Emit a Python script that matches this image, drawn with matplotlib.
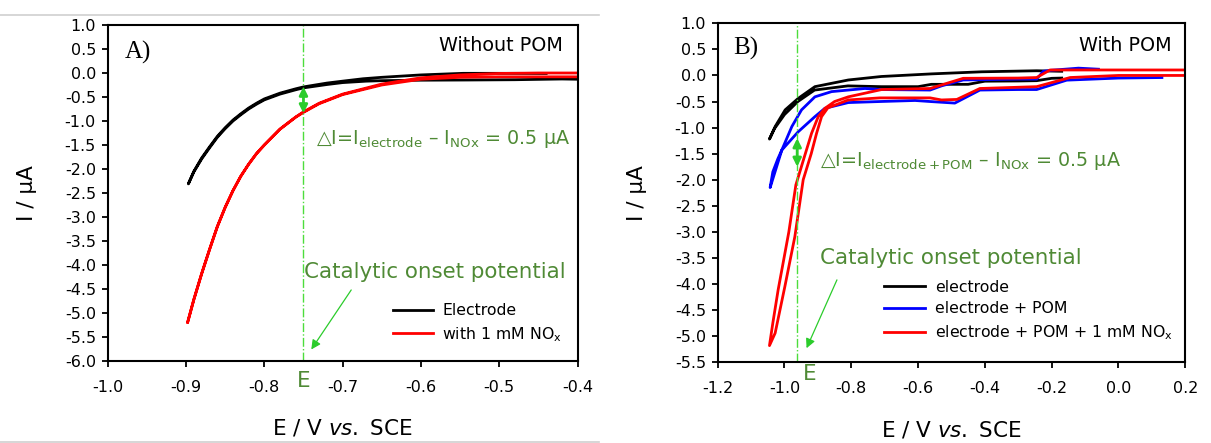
import matplotlib
matplotlib.use("Agg")
import matplotlib.pyplot as plt
from matplotlib.lines import Line2D

plt.rcParams['font.family'] = ['DejaVu Sans']
plt.rcParams['mathtext.fontset'] = 'dejavusans'

# ---------------- Panel A data (Without POM) ----------------
a_black_fwd_x = [-0.40, -0.42, -0.48, -0.54, -0.60, -0.65, -0.67, -0.70, -0.72, -0.75, -0.76, -0.78, -0.80, -0.81, -0.82, -0.83, -0.84, -0.85, -0.86, -0.87, -0.88, -0.89, -0.897]
a_black_fwd_y = [-0.13, -0.125, -0.14, -0.146, -0.15, -0.16, -0.17, -0.20, -0.24, -0.31, -0.35, -0.44, -0.56, -0.65, -0.75, -0.87, -1.00, -1.16, -1.34, -1.56, -1.79, -2.06, -2.31]
a_black_rev_x = [-0.897, -0.89, -0.88, -0.87, -0.86, -0.85, -0.84, -0.83, -0.82, -0.81, -0.80, -0.78, -0.76, -0.75, -0.72, -0.70, -0.674, -0.65, -0.60, -0.546, -0.486, -0.44]
a_black_rev_y = [-2.31, -2.05, -1.77, -1.54, -1.32, -1.14, -0.98, -0.85, -0.73, -0.63, -0.54, -0.42, -0.33, -0.29, -0.21, -0.17, -0.12, -0.09, -0.04, -0.007, -0.007, -0.01]

a_red_fwd_x = [-0.40, -0.45, -0.50, -0.55, -0.60, -0.65, -0.70, -0.73, -0.75, -0.76, -0.78, -0.80, -0.81, -0.82, -0.83, -0.84, -0.85, -0.86, -0.87, -0.88, -0.89, -0.898]
a_red_fwd_y = [-0.08, -0.08, -0.08, -0.09, -0.13, -0.25, -0.45, -0.64, -0.82, -0.92, -1.17, -1.50, -1.68, -1.90, -2.15, -2.45, -2.80, -3.20, -3.68, -4.18, -4.72, -5.20]
a_red_rev_x = [-0.898, -0.89, -0.88, -0.87, -0.86, -0.85, -0.84, -0.83, -0.82, -0.81, -0.80, -0.78, -0.76, -0.75, -0.73, -0.70, -0.65, -0.60, -0.55, -0.50, -0.45, -0.40]
a_red_rev_y = [-5.20, -4.72, -4.18, -3.68, -3.20, -2.80, -2.45, -2.15, -1.90, -1.68, -1.50, -1.17, -0.92, -0.81, -0.63, -0.44, -0.23, -0.10, -0.04, -0.01, 0.00, 0.00]

a_labels = ["Electrode", "with 1 mM NO$_\\mathregular{x}$"]
a_xticks = [-1.0, -0.9, -0.8, -0.7, -0.6, -0.5, -0.4]
a_yticks = [1.0, 0.5, 0.0, -0.5, -1.0, -1.5, -2.0, -2.5, -3.0, -3.5, -4.0, -4.5, -5.0, -5.5, -6.0]
a_onset_E = -0.75
a_dI = (-0.285, -0.84)

# ---------------- Panel B data (With POM) ----------------
b_black_1_x = [-0.17, -0.20, -0.245, -0.30, -0.40, -0.45, -0.56, -0.60, -0.71, -0.81, -0.91, -0.96, -1.00, -1.03, -1.045]
b_black_1_y = [-0.05, -0.055, -0.10, -0.106, -0.11, -0.17, -0.17, -0.215, -0.215, -0.20, -0.28, -0.50, -0.75, -1.02, -1.22]
b_black_2_x = [-1.045, -1.028, -0.998, -0.959, -0.909, -0.809, -0.71, -0.56, -0.41, -0.245, -0.17]
b_black_2_y = [-1.22, -0.98, -0.66, -0.44, -0.215, -0.087, -0.02, 0.03, 0.07, 0.09, 0.08]

b_blue_1_x = [-1.043, -1.035, -1.02, -1.008, -0.978, -0.949, -0.909, -0.859, -0.759, -0.714, -0.564, -0.53, -0.465, -0.30, -0.245, -0.225, -0.20, -0.12, -0.06]
b_blue_1_y = [-2.15, -1.85, -1.60, -1.43, -0.98, -0.66, -0.41, -0.31, -0.25, -0.27, -0.28, -0.20, -0.087, -0.07, -0.07, 0.08, 0.10, 0.14, 0.12]
b_blue_2_x = [-1.008, -0.959, -0.909, -0.879, -0.809, -0.714, -0.609, -0.564, -0.49, -0.415, -0.30, -0.245, -0.155, 0.0, 0.13]
b_blue_2_y = [-1.43, -1.08, -0.79, -0.63, -0.52, -0.50, -0.48, -0.50, -0.53, -0.28, -0.27, -0.27, -0.09, -0.05, -0.04]

b_red_1_x = [-1.045, -1.035, -1.019, -0.987, -0.966, -0.94, -0.919, -0.899, -0.879, -0.85, -0.809, -0.709, -0.564, -0.465, -0.30, -0.245, -0.205, 0.0, 0.2]
b_red_1_y = [-5.18, -4.75, -4.11, -3.00, -2.10, -1.55, -1.11, -0.79, -0.63, -0.50, -0.41, -0.27, -0.25, -0.055, -0.05, -0.04, 0.105, 0.105, 0.105]
b_red_2_x = [-1.045, -1.028, -0.999, -0.969, -0.944, -0.92, -0.904, -0.889, -0.87, -0.809, -0.714, -0.564, -0.53, -0.484, -0.415, -0.245, -0.145, 0.0, 0.2]
b_red_2_y = [-5.18, -4.94, -4.05, -3.09, -2.00, -1.50, -1.11, -0.79, -0.62, -0.47, -0.43, -0.43, -0.47, -0.46, -0.25, -0.215, -0.04, 0.0, 0.0]

b_labels = ["electrode", "electrode + POM", "electrode + POM + 1 mM NO$_\\mathregular{x}$"]
b_xticks = [-1.2, -1.0, -0.8, -0.6, -0.4, -0.2, 0.0, 0.2]
b_yticks = [1.0, 0.5, 0.0, -0.5, -1.0, -1.5, -2.0, -2.5, -3.0, -3.5, -4.0, -4.5, -5.0, -5.5]
b_onset_E = -0.962
b_dI = (-1.205, -1.75)

GREEN_TXT = "#4f8a35"
GREEN_LINE = "#4ddd3c"
GREEN_ARR = "#2bcc2b"
LW = 2.0

fig = plt.figure(figsize=(12.11, 4.43), dpi=100)
axA = fig.add_axes([0.08894, 0.18510, 0.38794, 0.75847])
axB = fig.add_axes([0.59265, 0.18217, 0.38612, 0.76524])

# decorative grey border lines of panel A
fig.add_artist(Line2D([0, 0.495], [1 - 15/443, 1 - 15/443], color="#d0d0d0", lw=1.2))
fig.add_artist(Line2D([0, 0.495], [1 - 441.5/443, 1 - 441.5/443], color="#d0d0d0", lw=1.2))


def style(ax, xlim, ylim, xticks, yticks):
    ax.set_xlim(*xlim)
    ax.set_ylim(*ylim)
    ax.set_xticks(xticks)
    ax.set_yticks(yticks)
    ax.set_xticklabels([f"{t:.1f}" for t in xticks])
    ax.set_yticklabels([f"{t:.1f}" for t in yticks])
    for s in ax.spines.values():
        s.set_linewidth(1.5)
    ax.tick_params(axis='both', direction='out', length=4.5, width=1.3, labelsize=11.5)
    ax.tick_params(axis='x', pad=9)
    ax.tick_params(axis='y', pad=4)
    ax.set_xlabel("E / V $\\mathit{vs.}$ SCE", fontsize=15.5, va='center')
    ax.set_ylabel("I / μA", fontsize=15.5, va='center')


# ---------- Panel A ----------
axA.plot(a_black_fwd_x + a_black_rev_x, a_black_fwd_y + a_black_rev_y, color="black", lw=LW, label=a_labels[0])
axA.plot(a_red_fwd_x + a_red_rev_x, a_red_fwd_y + a_red_rev_y, color="red", lw=LW, label=a_labels[1])
style(axA, (-1.0, -0.4), (-6.0, 1.0), a_xticks, a_yticks)
axA.xaxis.set_label_coords(0.5, -0.2)
axA.yaxis.set_label_coords(-0.172, 0.5)
axA.axvline(a_onset_E, color=GREEN_LINE, lw=1.0, ls='-.')
axA.annotate("", xy=(a_onset_E, a_dI[0]), xytext=(a_onset_E, a_dI[1]),
             arrowprops=dict(arrowstyle='<|-|>', color=GREEN_ARR, lw=2, mutation_scale=12, shrinkA=0, shrinkB=0))
axA.annotate("", xy=(-0.740, -5.76), xytext=(-0.689, -4.52),
             arrowprops=dict(arrowstyle='-|>', color=GREEN_ARR, lw=0.9, mutation_scale=14, shrinkA=0, shrinkB=0))
axA.text(-0.978, 0.42, "A)", family="Liberation Serif", fontsize=18, ha='left', va='center')
axA.text(-0.4186, 0.58, "Without POM", fontsize=13.8, ha='right', va='center')
axA.text(-0.7345, -1.47, "△I=I$_{\\mathregular{electrode}}$ – I$_{\\mathregular{NOx}}$ = 0.5 μA",
         fontsize=13.8, color=GREEN_TXT, ha='left', va='baseline')
axA.text(-0.7495, -4.14, "Catalytic onset potential", fontsize=15.4, color=GREEN_TXT, ha='left', va='center')
axA.text(a_onset_E, -6.41, "E", fontsize=15.5, color=GREEN_TXT, ha='center', va='center', clip_on=False)
axA.legend(loc='upper left', bbox_to_anchor=(-0.635, -4.80), bbox_transform=axA.transData,
           frameon=False, fontsize=11.3, handlelength=2.5, handletextpad=0.6, labelspacing=0.42,
           borderpad=0, borderaxespad=0)

# ---------- Panel B ----------
axB.plot(b_black_1_x + b_black_2_x, b_black_1_y + b_black_2_y, color="black", lw=LW, label=b_labels[0])
axB.plot(b_blue_1_x[::-1] + b_blue_2_x, b_blue_1_y[::-1] + b_blue_2_y, color="#0000ff", lw=LW, label=b_labels[1])
axB.plot(b_red_1_x[::-1] + b_red_2_x, b_red_1_y[::-1] + b_red_2_y, color="red", lw=LW, label=b_labels[2])
style(axB, (-1.2, 0.2), (-5.5, 1.0), b_xticks, b_yticks)
axB.xaxis.set_label_coords(0.5, -0.2)
axB.yaxis.set_label_coords(-0.173, 0.5)
axB.axvline(b_onset_E, color=GREEN_LINE, lw=1.0, ls='-.')
axB.annotate("", xy=(b_onset_E, b_dI[0]), xytext=(b_onset_E, b_dI[1]),
             arrowprops=dict(arrowstyle='<|-|>', color=GREEN_ARR, lw=2, mutation_scale=12, shrinkA=0, shrinkB=0))
axB.annotate("", xy=(-0.934, -5.23), xytext=(-0.843, -3.92),
             arrowprops=dict(arrowstyle='-|>', color=GREEN_ARR, lw=0.9, mutation_scale=14, shrinkA=0, shrinkB=0))
axB.text(-1.153, 0.52, "B)", family="Liberation Serif", fontsize=18, ha='left', va='center')
axB.text(0.160, 0.58, "With POM", fontsize=13.8, ha='right', va='center')
axB.text(-0.894, -1.73, "△I=I$_{\\mathregular{electrode+POM}}$ – I$_{\\mathregular{NOx}}$ = 0.5 μA",
         fontsize=13.8, color=GREEN_TXT, ha='left', va='baseline')
axB.text(-0.894, -3.50, "Catalytic onset potential", fontsize=15.4, color=GREEN_TXT, ha='left', va='center')
axB.text(-0.924, -5.72, "E", fontsize=15.5, color=GREEN_TXT, ha='center', va='center', clip_on=False)
axB.legend(loc='upper left', bbox_to_anchor=(-0.701, -3.92), bbox_transform=axB.transData,
           frameon=False, fontsize=11.3, handlelength=2.6, handletextpad=0.64, labelspacing=0.42,
           borderpad=0, borderaxespad=0)

fig.savefig("out.png", dpi=100)
